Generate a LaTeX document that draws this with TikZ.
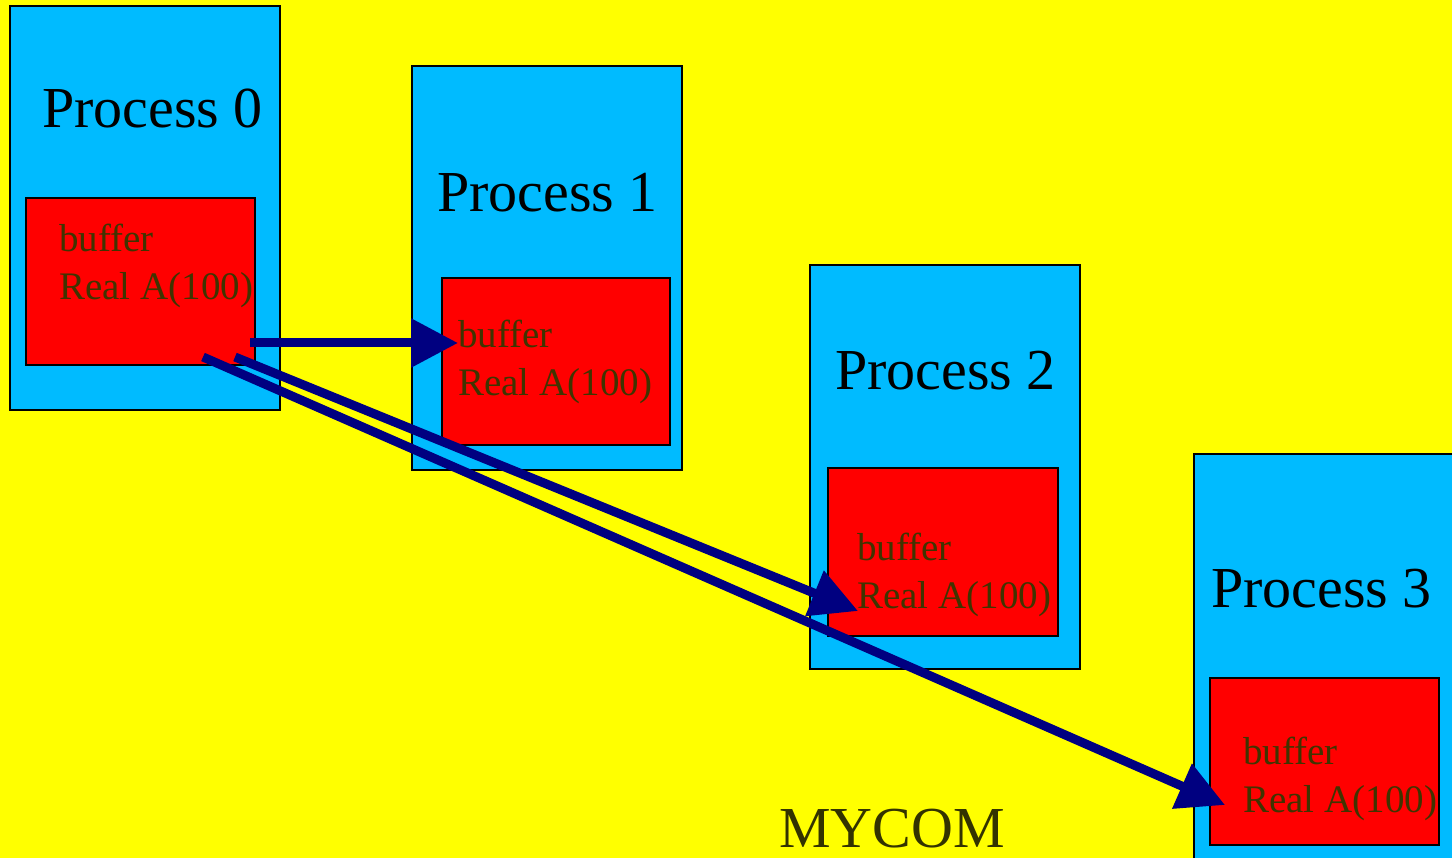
\documentclass[tikz,border=0pt]{standalone}
\usepackage{fontspec}
\setmainfont{Liberation Serif}
\usetikzlibrary{arrows.meta}
\definecolor{bgyellow}{RGB}{255,255,0}
\definecolor{proccyan}{RGB}{0,187,255}
\definecolor{bufred}{RGB}{255,0,0}
\definecolor{buftext}{RGB}{64,52,0}
\definecolor{comtext}{RGB}{51,51,0}
\definecolor{arrnavy}{RGB}{0,0,128}
\tikzset{
  procbox/.style={draw=black, line width=1.5pt, fill=proccyan},
  bufbox/.style={draw=black, line width=1.5pt, fill=bufred},
  proctitle/.style={anchor=base west, inner sep=0pt, font=\fontsize{58}{60}\selectfont, text=black},
  buflabel/.style={anchor=base west, inner sep=0pt, font=\fontsize{39}{48}\selectfont, text=buftext},
  msg/.style={draw=arrnavy, line width=9pt, line cap=butt, -{Triangle[length=47pt,width=47pt]}}
}
\begin{document}
\begin{tikzpicture}[x=1pt,y=-1pt]
\useasboundingbox (0,0) rectangle (1452,858);
\fill[bgyellow] (0,0) rectangle (1452,858);
\begin{scope}
\clip (0,0) rectangle (1452,858);
% Process 0
\draw[procbox] (10,6) rectangle (280,410);
\node[proctitle] (p0) at (42,128) {Process 0};
\draw[bufbox] (26,198) rectangle (255,365);
\node[buflabel] (b0) at (59,252) {buffer};
\node[buflabel] (r0) at (59,300) {Real A(100)};
% Process 1
\draw[procbox] (412,66) rectangle (682,470);
\node[proctitle] (p1) at (437,212) {Process 1};
\draw[bufbox] (442,278) rectangle (670,445);
\node[buflabel] (b1) at (458,348) {buffer};
\node[buflabel] (r1) at (458,396) {Real A(100)};
% Process 2
\draw[procbox] (810,265) rectangle (1080,669);
\node[proctitle] (p2) at (835,390) {Process 2};
\draw[bufbox] (828,468) rectangle (1058,636);
\node[buflabel] (b2) at (857,560) {buffer};
\node[buflabel] (r2) at (857,608) {Real A(100)};
% Process 3
\draw[procbox] (1194,454) rectangle (1470,880);
\node[proctitle] (p3) at (1211,607) {Process 3};
\draw[bufbox] (1210,678) rectangle (1439,845);
\node[buflabel] (b3) at (1243,764) {buffer};
\node[buflabel] (r3) at (1243,812) {Real A(100)};
% MYCOM
\node[anchor=base west, inner sep=0pt, font=\fontsize{58}{60}\selectfont, text=comtext] (com) at (779,847) {MYCOM};
% arrows
\coordinate (s1) at (250,343);
\coordinate (t1) at (458,343);
\coordinate (s2) at (235,357);
\coordinate (t2) at (858,611);
\coordinate (s3) at (203,357);
\coordinate (t3) at (1225,805);
\draw[msg] (s1) -- (t1);
\draw[msg] (s2) -- (t2);
\draw[msg] (s3) -- (t3);
\end{scope}
\end{tikzpicture}
\end{document}
